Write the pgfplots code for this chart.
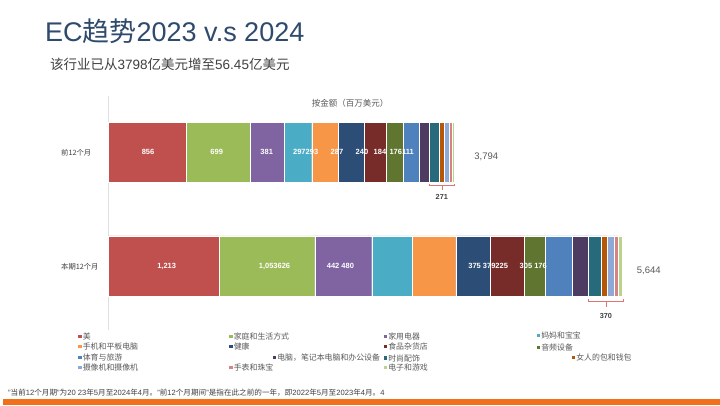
\documentclass[border=0pt]{standalone}
\usepackage{fontspec}
\setmainfont{Liberation Sans}
\newfontfamily\cjk{Noto Sans CJK SC}
\usepackage{pgfplots}
\pgfplotsset{compat=1.18}
\definecolor{c1}{HTML}{C0504D}
\definecolor{c2}{HTML}{9BBB59}
\definecolor{c3}{HTML}{8064A2}
\definecolor{c4}{HTML}{4BACC6}
\definecolor{c5}{HTML}{F79646}
\definecolor{c6}{HTML}{2C4D75}
\definecolor{c7}{HTML}{772C2A}
\definecolor{c8}{HTML}{5F7530}
\definecolor{c9}{HTML}{4F81BD}
\definecolor{c10}{HTML}{4D3B62}
\definecolor{c11}{HTML}{276A7C}
\definecolor{c12}{HTML}{B65708}
\definecolor{c13}{HTML}{8EA9D8}
\definecolor{c14}{HTML}{D48482}
\definecolor{c15}{HTML}{BCD38E}
\definecolor{titlec}{HTML}{2E4A6D}
\definecolor{txt}{HTML}{404040}
\definecolor{ltxt}{HTML}{595959}
\definecolor{brk}{HTML}{E07472}
\definecolor{orbar}{HTML}{F2701C}
\tikzset{dl/.style={text=white, inner sep=0pt, font=\bfseries\fontsize{7.5}{8}\selectfont}}
\newcommand\legitem[4]{\fill[#1] (#2,-#3-1.8) rectangle ++(3.6,3.6); \node[anchor=west, inner sep=0pt, text=ltxt, font=\cjk\fontsize{7.9}{8}\selectfont] at (#2+4.6,-#3) {#4};}
\begin{document}
\begin{tikzpicture}[x=1pt,y=1pt]
\fill[white] (0,0) rectangle (720,-405);
\node[anchor=west, inner sep=0pt, text=titlec, font=\fontsize{27}{30}\selectfont] at (45,-31.7) {EC{\cjk 趋势}2023 v.s 2024};
\node[anchor=west, inner sep=0pt, text=txt, font=\fontsize{13.5}{15}\selectfont] at (50,-64.3) {{\cjk 该行业已从}3798{\cjk 亿美元增至}56.45{\cjk 亿美元}};
\node[inner sep=0pt, text=ltxt, font=\cjk\fontsize{8.5}{10}\selectfont] at (350,-103.3) {按金额（百万美元）};
\draw[black!12, line width=0.8pt] (108.3,-96) -- (108.3,-330);
\node[anchor=west, inner sep=0pt, text=txt, font=\cjk\fontsize{7.3}{8}\selectfont] at (61,-153) {前12个月};
\node[anchor=west, inner sep=0pt, text=txt, font=\cjk\fontsize{7.3}{8}\selectfont] at (61,-266.7) {本期12个月};
\begin{axis}[
  at={(108.3pt,-330pt)}, anchor=south west,
  width=592pt, height=234pt, scale only axis,
  xbar stacked, bar width=0.53,
  xmin=0, xmax=6500, ymin=-0.562, ymax=1.494,
  axis lines=none, ticks=none,
  clip=false,
]
\addplot[fill=c1, draw=white, line width=0.3pt] coordinates {(1213,0) (856,1)};
\addplot[fill=c2, draw=white, line width=0.3pt] coordinates {(1053,0) (699,1)};
\addplot[fill=c3, draw=white, line width=0.3pt] coordinates {(626,0) (381,1)};
\addplot[fill=c4, draw=white, line width=0.3pt] coordinates {(442,0) (297,1)};
\addplot[fill=c5, draw=white, line width=0.3pt] coordinates {(480,0) (293,1)};
\addplot[fill=c6, draw=white, line width=0.3pt] coordinates {(375,0) (287,1)};
\addplot[fill=c7, draw=white, line width=0.3pt] coordinates {(379,0) (240,1)};
\addplot[fill=c8, draw=white, line width=0.3pt] coordinates {(225,0) (184,1)};
\addplot[fill=c9, draw=white, line width=0.3pt] coordinates {(305,0) (176,1)};
\addplot[fill=c10, draw=white, line width=0.3pt] coordinates {(176,0) (111,1)};
\addplot[fill=c11, draw=white, line width=0.3pt] coordinates {(133,0) (108,1)};
\addplot[fill=c12, draw=white, line width=0.3pt] coordinates {(72,0) (60,1)};
\addplot[fill=c13, draw=white, line width=0.3pt] coordinates {(72,0) (55,1)};
\addplot[fill=c14, draw=white, line width=0.3pt] coordinates {(46,0) (24,1)};
\addplot[fill=c15, draw=white, line width=0.3pt] coordinates {(47,0) (24,1)};
\coordinate (p1) at (axis cs:436,1);
\coordinate (p2) at (axis cs:1190,1);
\coordinate (p3) at (axis cs:1739,1);
\coordinate (p4) at (axis cs:2167,1);
\coordinate (p5) at (axis cs:2511,1);
\coordinate (p6) at (axis cs:2785,1);
\coordinate (p7) at (axis cs:2983,1);
\coordinate (p8) at (axis cs:3221,1);
\coordinate (q1) at (axis cs:641,0);
\coordinate (q2) at (axis cs:1825,0);
\coordinate (q3) at (axis cs:2549,0);
\coordinate (q4) at (axis cs:4171,0);
\coordinate (q5) at (axis cs:4666,0);
\node[anchor=west, inner sep=0pt, text=ltxt, font=\fontsize{9.5}{11}\selectfont] at (axis cs:4018,0.96) {3,794};
\node[anchor=west, inner sep=0pt, text=ltxt, font=\fontsize{9.5}{11}\selectfont] at (axis cs:5802,-0.041) {5,644};
\draw[brk, line width=0.6pt] (axis cs:3524,0.725) -- (axis cs:3524,0.707) -- (axis cs:3800,0.707) -- (axis cs:3800,0.725);
\draw[brk, line width=0.6pt] (axis cs:3662,0.707) -- (axis cs:3662,0.668);
\node[inner sep=0pt, text=txt, font=\bfseries\fontsize{7.3}{8}\selectfont] at (axis cs:3662,0.609) {271};
\draw[brk, line width=0.6pt] (axis cs:5274,-0.29) -- (axis cs:5274,-0.308) -- (axis cs:5655,-0.308) -- (axis cs:5655,-0.29);
\draw[brk, line width=0.6pt] (axis cs:5464,-0.308) -- (axis cs:5464,-0.36);
\node[inner sep=0pt, text=txt, font=\bfseries\fontsize{7.3}{8}\selectfont] at (axis cs:5464,-0.44) {370};
\end{axis}
\node[dl] at (p1) {856};
\node[dl] at (p2) {699};
\node[dl] at (p3) {381};
\node[dl] at (p4) {297293};
\node[dl] at (p5) {287};
\node[dl] at (p6) {240};
\node[dl] at (p7) {184};
\node[dl] at (p8) {176111};
\node[dl] at (q1) {1,213};
\node[dl] at (q2) {1,053626};
\node[dl] at (q3) {442 480};
\node[dl] at (q4) {375 379225};
\node[dl] at (q5) {305 176};
\legitem{c1}{78}{336.5}{美}
\legitem{c2}{229}{336.5}{家庭和生活方式}
\legitem{c3}{383.5}{336.5}{家用电器}
\legitem{c4}{536.5}{335.5}{妈妈和宝宝}
\legitem{c5}{78}{346.5}{手机和平板电脑}
\legitem{c6}{229}{346.5}{健康}
\legitem{c7}{383.5}{346.5}{食品杂货店}
\legitem{c8}{536.5}{347.5}{音频设备}
\legitem{c9}{78}{357.5}{体育与旅游}
\legitem{c10}{272.5}{357.5}{电脑，笔记本电脑和办公设备}
\legitem{c11}{383.5}{358}{时尚配饰}
\legitem{c12}{571.5}{357.5}{女人的包和钱包}
\legitem{c13}{78}{367.5}{摄像机和摄像机}
\legitem{c14}{229}{367.5}{手表和珠宝}
\legitem{c15}{383.5}{367.5}{电子和游戏}
\node[anchor=west, inner sep=0pt, text=txt, font=\fontsize{7.6}{8}\selectfont] at (8,-393) {"{\cjk 当前}12{\cjk 个月期}"{\cjk 为}20 23{\cjk 年}5{\cjk 月至}2024{\cjk 年}4{\cjk 月。}"{\cjk 前}12{\cjk 个月期间}"{\cjk 是指在此之前的一年，即}2022{\cjk 年}5{\cjk 月至}2023{\cjk 年}4{\cjk 月。}4};
\fill[orbar] (3,-398.5) rectangle (720,-405);
\end{tikzpicture}
\end{document}
